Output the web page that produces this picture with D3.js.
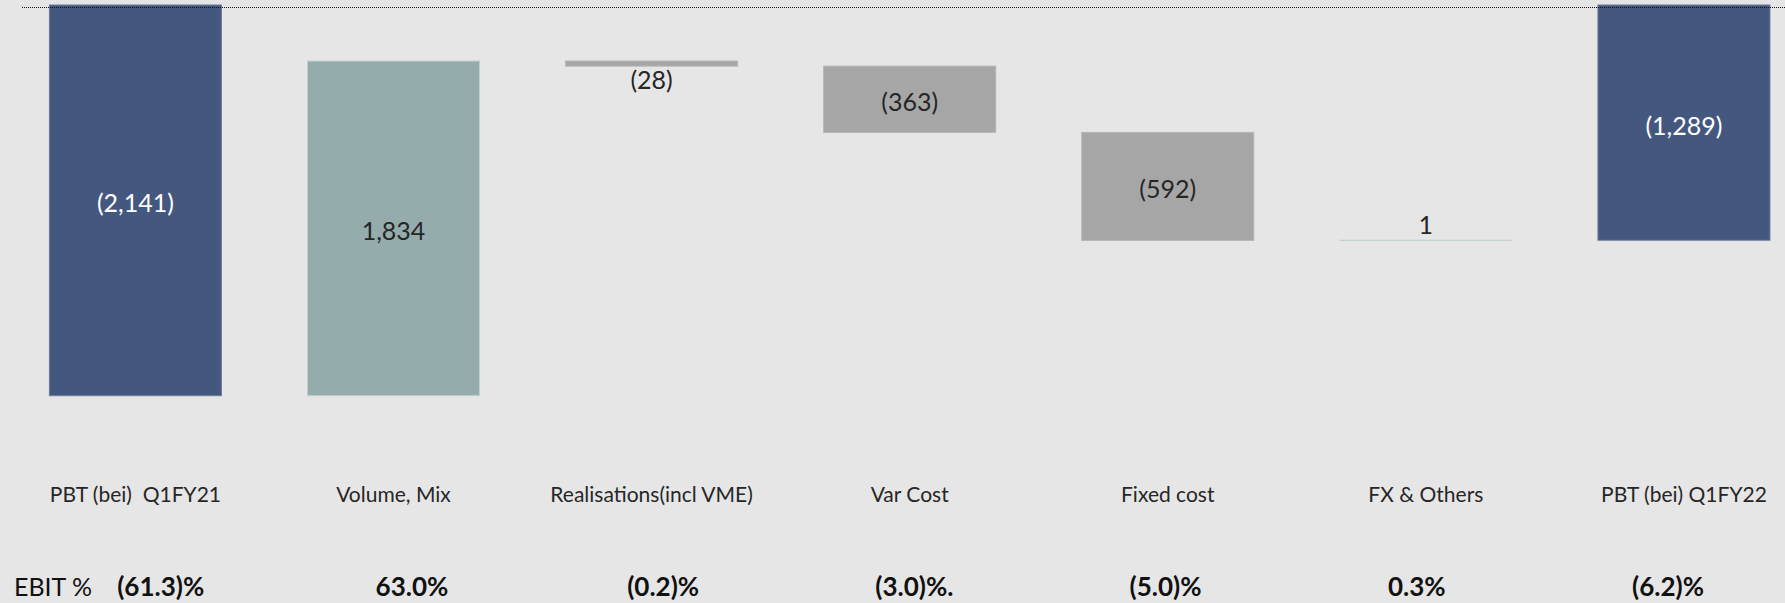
<!DOCTYPE html>
<html>
<head>
<meta charset="utf-8">
<script src="https://cdn.jsdelivr.net/npm/d3@7"></script>
<style>
  html, body { margin: 0; padding: 0; background: #E6E6E6; }
  svg { display: block; }
  text { font-family: Lato, "Open Sans", sans-serif; }
</style>
</head>
<body>
<svg id="chart" width="1785" height="603"></svg>
<script>
// ---- data ----
const categories = ["PBT (bei)  Q1FY21", "Volume, Mix", "Realisations(incl VME)", "Var Cost", "Fixed cost", "FX & Others", "PBT (bei) Q1FY22"];
const values = [-2141, 1834, -28, -363, -592, 1, -1289];
const barTypes = ["total", "delta", "delta", "delta", "delta", "delta", "total"];
const ebitLabels = ["(61.3)%", "63.0%", "(0.2)%", "(3.0)%.", "(5.0)%", "0.3%", "(6.2)%"];
const ebitTitle = "EBIT %";

// ---- layout ----
const W = 1785, H = 603;
const svg = d3.select("#chart");
svg.append("rect").attr("width", W).attr("height", H).attr("fill", "#E6E6E6");

// waterfall start/end
let run = 0;
const bars = values.map((v, i) => {
  let start, end;
  if (barTypes[i] === "total") { start = 0; end = v; run = v; }
  else { start = run; end = run + v; run = end; }
  return { cat: categories[i], value: v, type: barTypes[i], start, end, i };
});

const x = d3.scaleBand().domain(categories).range([6.35, 1813]).paddingInner(0.3335).paddingOuter(0.1668);
const minV = d3.min(bars, d => Math.min(d.start, d.end));
const y = d3.scaleLinear().domain([minV, 0]).range([395.7, 5]);

const fmt = d3.format(",");
const labelText = v => v < 0 ? "(" + fmt(-v) + ")" : fmt(v);

const fillOf = d => d.type === "total" ? "#44587F" : (d.value >= 0 ? "#95ACAD" : "#A6A6A6");
const strokeOf = d => d.type === "total" ? "#6B7C9C" : (d.value >= 0 ? "#C3D0D0" : "#B4B4B4");

svg.selectAll("rect.bar").data(bars).join("rect")
  .attr("class", "bar")
  .attr("x", d => x(d.cat))
  .attr("width", x.bandwidth())
  .attr("y", d => y(Math.max(d.start, d.end)))
  .attr("height", d => Math.abs(y(d.start) - y(d.end)))
  .attr("fill", fillOf)
  .attr("stroke", strokeOf)
  .attr("stroke-width", 1);

// zero dotted line (drawn over bars as in the reference)
svg.append("line")
  .attr("x1", 22).attr("x2", W)
  .attr("y1", y(0) + 2.5).attr("y2", y(0) + 2.5)
  .attr("stroke", "#111").attr("stroke-width", 1)
  .attr("stroke-dasharray", "1,1");

// value labels
svg.selectAll("text.val").data(bars).join("text")
  .attr("class", "val")
  .attr("x", d => x(d.cat) + x.bandwidth() / 2)
  .attr("y", d => {
    const top = y(Math.max(d.start, d.end)), bot = y(Math.min(d.start, d.end));
    if (bot - top < 30) return d.value < 0 ? bot + 13 : top - 16;
    return (top + bot) / 2 + 2;
  })
  .attr("text-anchor", "middle")
  .attr("dominant-baseline", "central")
  .attr("font-size", 25)
  .attr("fill", d => d.type === "total" ? "#FFFFFF" : "#262626")
  .text(d => labelText(d.value));

// category labels
svg.selectAll("text.cat").data(categories).join("text")
  .attr("class", "cat")
  .attr("x", d => x(d) + x.bandwidth() / 2)
  .attr("y", 502)
  .attr("text-anchor", "middle")
  .attr("font-size", 21)
  .attr("fill", "#262626")
  .style("white-space", "pre")
  .text(d => d);

// EBIT row
const xe = d3.scalePoint().domain(d3.range(ebitLabels.length)).range([160.7, 1668]);
svg.append("text")
  .attr("x", 14).attr("y", 596)
  .attr("font-size", 25)
  .attr("fill", "#111")
  .text(ebitTitle);
svg.selectAll("text.ebit").data(ebitLabels).join("text")
  .attr("class", "ebit")
  .attr("x", (d, i) => xe(i))
  .attr("y", 596)
  .attr("text-anchor", "middle")
  .attr("font-size", 26)
  .attr("font-weight", "bold")
  .attr("fill", "#111")
  .text(d => d);
</script>
</body>
</html>
